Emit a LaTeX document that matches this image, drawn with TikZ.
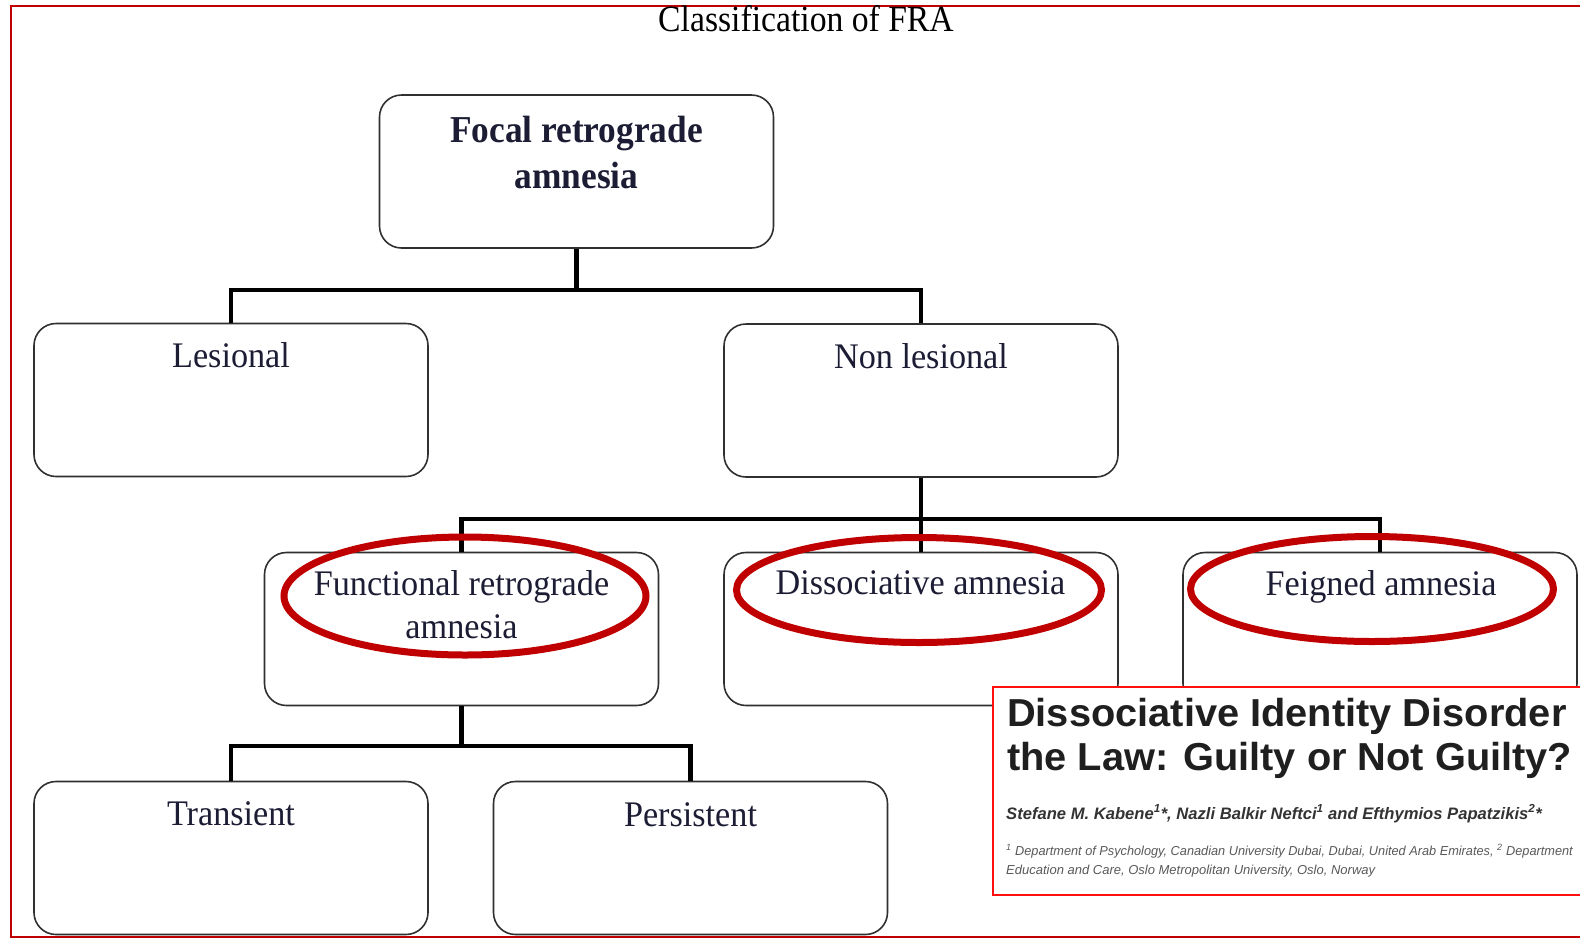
\documentclass[tikz,border=0pt]{standalone}
\usepackage{fontspec}
\setmainfont{Liberation Serif}
\newfontfamily\boxfont[FakeStretch=0.95]{Liberation Serif}
\newfontfamily\titlefont[FakeStretch=0.91]{Liberation Serif}
\newfontfamily\boldfont[FakeStretch=0.93]{Liberation Serif}
\newfontfamily\papersans{Liberation Sans}
\newfontfamily\affilsans[FakeStretch=0.98]{Liberation Sans}
\newfontfamily\papertitle[FakeStretch=1.02]{Liberation Sans}
\usetikzlibrary{shapes.geometric}
\definecolor{framered}{HTML}{C00000}
\definecolor{hlred}{HTML}{C00000}
\definecolor{paperred}{HTML}{FF1010}
\definecolor{txt}{HTML}{1C1C34}
\definecolor{boxline}{HTML}{303030}
\begin{document}
\begin{tikzpicture}[x=1pt,y=-1pt,
  fbox/.style={draw=boxline, line width=1.6pt, rounded corners=22pt, minimum width=394pt, minimum height=153pt, inner sep=0pt},
  conn/.style={draw=black, line width=4.5pt, line join=miter},
  lbl/.style={anchor=base, inner sep=0pt, text=txt, font=\boxfont\fontsize{36}{40}\selectfont},
  blbl/.style={anchor=base, inner sep=0pt, text=txt, font=\boldfont\bfseries\fontsize{38}{42}\selectfont},
  hl/.style={ellipse, draw=hlred, line width=7pt, inner sep=0pt},
  ptext/.style={anchor=base west, inner sep=0pt}
]
\useasboundingbox (0,0) rectangle (1580,938);
\fill[white] (0,0) rectangle (1580,938);

% outer frame
\draw[framered, line width=2.5pt] (1580,6) -- (11,6) -- (11,937) -- (1580,937);

% title
\node[anchor=base, inner sep=0pt, text=black, font=\titlefont\fontsize{37}{40}\selectfont] (title) at (806,31) {Classification of FRA};

% boxes
\node[fbox] (focal) at (576.5,171.5) {};
\node[fbox] (lesional) at (231,400) {};
\node[fbox] (nonles) at (921,400.5) {};
\node[fbox] (functional) at (461.5,629) {};
\node[fbox] (dissoc) at (921,629) {};
\node[fbox] (feigned) at (1380,629) {};
\node[fbox] (transient) at (231,858) {};
\node[fbox] (persistent) at (690.5,858) {};

% connectors
\coordinate (j1) at (576.5,290);
\coordinate (j2) at (921,519);
\coordinate (j3) at (461.5,746);
\draw[conn] (focal.south) -- (j1);
\draw[conn] (lesional.north) |- (j1) -| (nonles.north);
\draw[conn] (nonles.south) -- (j2);
\draw[conn] (functional.north) |- (j2) -| (feigned.north);
\draw[conn] (j2) -- (dissoc.north);
\draw[conn] (functional.south) -- (j3);
\draw[conn] (transient.north) |- (j3) -| (persistent.north);

% labels
\node[blbl] (focalt1) at (576.5,142) {Focal retrograde};
\node[blbl] (focalt2) at (576.5,188) {amnesia};
\node[lbl] (lesionalt) at (231,367) {Lesional};
\node[lbl] (nonlest) at (921,368) {Non lesional};
\node[lbl] (functionalt1) at (461.5,595) {Functional retrograde};
\node[lbl] (functionalt2) at (461.5,638) {amnesia};
\node[lbl] (dissoct) at (920.5,594) {Dissociative amnesia};
\node[lbl] (feignedt) at (1381,595) {Feigned amnesia};
\node[lbl] (transientt) at (231,825) {Transient};
\node[lbl] (persistentt) at (690.5,826) {Persistent};

% highlight ellipses
\node[hl, minimum width=362pt, minimum height=118pt] (hl1) at (465,596) {};
\node[hl, minimum width=365pt, minimum height=105pt] (hl2) at (919,590) {};
\node[hl, minimum width=363pt, minimum height=105pt] (hl3) at (1372,589) {};

% paper inset
\fill[white] (993,687) rectangle (1580,895);
\draw[paperred, line width=2.5pt] (1580,687) -- (993,687) -- (993,895) -- (1580,895);
\node[ptext, text=black!88, font=\papertitle\bfseries\fontsize{39}{44}\selectfont] (pt1) at (1007,726) {Dissociative Identity Disorder};
\node[ptext, text=black!88, font=\papertitle\bfseries\fontsize{39}{44}\selectfont] (pt2) at (1007,770) {the Law: Guilty or Not Guilty?};
\node[ptext, text=black!80, font=\papersans\bfseries\itshape\fontsize{16.6}{19}\selectfont] (authors) at (1006,819) {Stefane M. Kabene\textsuperscript{1}*, Nazli Balkir Neftci\textsuperscript{1} and Efthymios Papatzikis\textsuperscript{2}*};
\node[ptext, text=black!65, font=\affilsans\itshape\fontsize{13}{16}\selectfont] (aff1) at (1006,855) {\textsuperscript{1} Department of Psychology, Canadian University Dubai, Dubai, United Arab Emirates, \textsuperscript{2} Department};
\node[ptext, text=black!65, font=\papersans\itshape\fontsize{13}{16}\selectfont] (aff2) at (1006,874) {Education and Care, Oslo Metropolitan University, Oslo, Norway};
\end{tikzpicture}
\end{document}
